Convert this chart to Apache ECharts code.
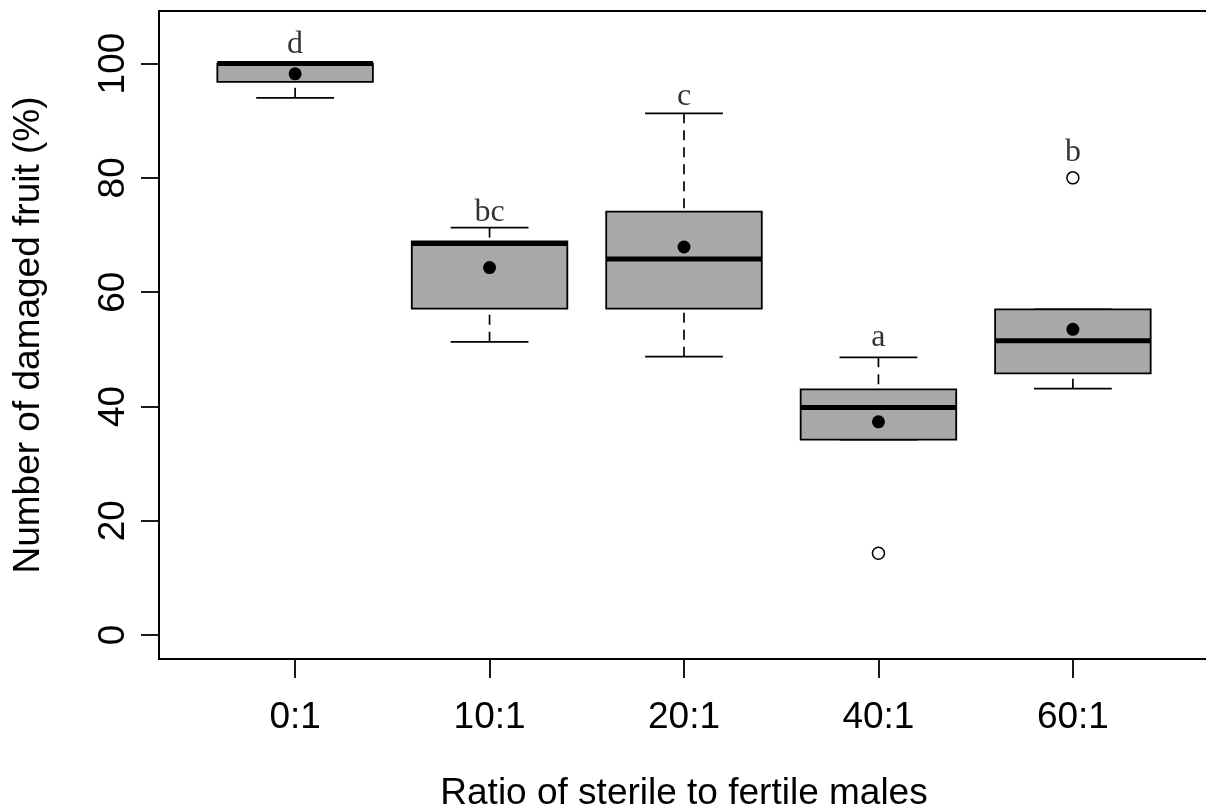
<!DOCTYPE html>
<html>
<head>
<meta charset="utf-8">
<script src="https://cdn.jsdelivr.net/npm/echarts@6/dist/echarts.min.js"></script>
<style>
html,body{margin:0;padding:0;background:#fff;}
#chart{width:1206px;height:808px;}
</style>
</head>
<body>
<div id="chart"></div>
<script>
// ---- data ----
const categories = ['0:1', '10:1', '20:1', '40:1', '60:1'];
const lowerWhisker = [94.0, 51.3, 48.7, 34.2, 43.1];
const q1 = [96.8, 57.1, 57.1, 34.2, 45.8];
const median = [100, 68.5, 65.8, 39.8, 51.5];
const q3 = [100, 68.9, 74.1, 43.0, 57.0];
const upperWhisker = [100, 71.3, 91.3, 48.6, 57.0];
const means = [98.2, 64.3, 67.9, 37.3, 53.5];
const outlierGroup = [4, 5];
const outlierValue = [14.3, 80.0];
const letters = ['d', 'bc', 'c', 'a', 'b'];
const letterY = [103.3, 74.0, 94.2, 52.0, 84.4];
const yTicks = [0, 20, 40, 60, 80, 100];

// ---- build ----
const boxData = categories.map((c, i) => [i + 1, lowerWhisker[i], q1[i], median[i], q3[i], upperWhisker[i]]);
const meanData = means.map((m, i) => [i + 1, m]);
const outlierData = outlierGroup.map((g, i) => [g, outlierValue[i]]);
const letterData = letters.map((l, i) => ({ value: [i + 1, letterY[i]], name: l }));

const chart = echarts.init(document.getElementById('chart'));

function renderBox(params, api) {
  const x = api.value(0);
  const lw = api.value(1), lq = api.value(2), md = api.value(3), uq = api.value(4), uw = api.value(5);
  const pc = (xx, yy) => api.coord([xx, yy]);
  const bl = pc(x - 0.4, uq), br = pc(x + 0.4, lq);
  const sl = pc(x - 0.2, 0)[0], sr = pc(x + 0.2, 0)[0];
  const cx = pc(x, 0)[0];
  const yLw = pc(x, lw)[1], yLq = pc(x, lq)[1], yMd = pc(x, md)[1], yUq = pc(x, uq)[1], yUw = pc(x, uw)[1];
  const stroke = '#000';
  const children = [];
  const dashStyle = { stroke: stroke, lineWidth: 1.7, lineDash: [10, 7], fill: null };
  if (Math.abs(yUw - yUq) > 0.5) {
    children.push({ type: 'line', shape: { x1: cx, y1: yUw, x2: cx, y2: yUq }, style: dashStyle });
  }
  if (Math.abs(yLw - yLq) > 0.5) {
    children.push({ type: 'line', shape: { x1: cx, y1: yLw, x2: cx, y2: yLq }, style: dashStyle });
  }
  children.push({ type: 'line', shape: { x1: sl, y1: yUw, x2: sr, y2: yUw }, style: { stroke: stroke, lineWidth: 1.8 } });
  children.push({ type: 'line', shape: { x1: sl, y1: yLw, x2: sr, y2: yLw }, style: { stroke: stroke, lineWidth: 1.8 } });
  children.push({
    type: 'rect',
    shape: { x: bl[0], y: yUq, width: br[0] - bl[0], height: yLq - yUq },
    style: { fill: '#A9A9A9', stroke: stroke, lineWidth: 1.8 }
  });
  children.push({ type: 'line', shape: { x1: bl[0], y1: yMd, x2: br[0], y2: yMd }, style: { stroke: stroke, lineWidth: 5 } });
  return { type: 'group', children: children };
}

const sans = '"Liberation Sans", Arial, sans-serif';

chart.setOption({
  animation: false,
  backgroundColor: '#fff',
  grid: {
    left: 159, top: 11, width: 1050, height: 648,
    containLabel: false, outerBoundsMode: 'none',
    show: true, borderColor: '#000', borderWidth: 2, backgroundColor: 'transparent'
  },
  xAxis: {
    type: 'value', min: 0.3, max: 5.7,
    name: 'Ratio of sterile to fertile males',
    nameLocation: 'middle', nameGap: 116,
    nameTextStyle: { fontFamily: sans, fontSize: 37, color: '#000' },
    axisLine: { show: false, onZero: false },
    splitLine: { show: false },
    axisTick: { show: true, inside: false, customValues: [1, 2, 3, 4, 5], length: 19, lineStyle: { color: '#000', width: 1.8 } },
    axisLabel: {
      customValues: [1, 2, 3, 4, 5],
      formatter: v => categories[Math.round(v) - 1] || '',
      fontFamily: sans, fontSize: 37, color: '#000', margin: 40
    }
  },
  yAxis: {
    type: 'value', min: -4.2, max: 109.2,
    name: 'Number of damaged fruit (%)',
    nameLocation: 'middle', nameGap: 112,
    nameTextStyle: { fontFamily: sans, fontSize: 37, color: '#000' },
    axisLine: { show: false, onZero: false },
    splitLine: { show: false },
    axisTick: { show: true, inside: false, customValues: yTicks, length: 18, lineStyle: { color: '#000', width: 1.8 } },
    axisLabel: {
      customValues: yTicks, rotate: 90,
      fontFamily: sans, fontSize: 37, color: '#000', margin: 27
    }
  },
  series: [
    {
      type: 'custom', renderItem: renderBox, data: boxData,
      encode: { x: 0, y: [1, 2, 3, 4, 5] }, z: 2
    },
    {
      type: 'scatter', data: meanData, symbol: 'circle', symbolSize: 13,
      itemStyle: { color: '#000', opacity: 1 }, z: 5
    },
    {
      type: 'scatter', data: outlierData, symbol: 'circle', symbolSize: 12,
      itemStyle: { color: '#fff', borderColor: '#000', borderWidth: 1.5, opacity: 1 }, z: 5
    },
    {
      type: 'scatter', data: letterData, symbolSize: 0, z: 6,
      label: {
        show: true, position: 'inside', formatter: p => p.name,
        fontFamily: '"Liberation Serif", "Times New Roman", serif', fontSize: 32, color: '#000'
      }
    }
  ]
});
</script>
</body>
</html>
